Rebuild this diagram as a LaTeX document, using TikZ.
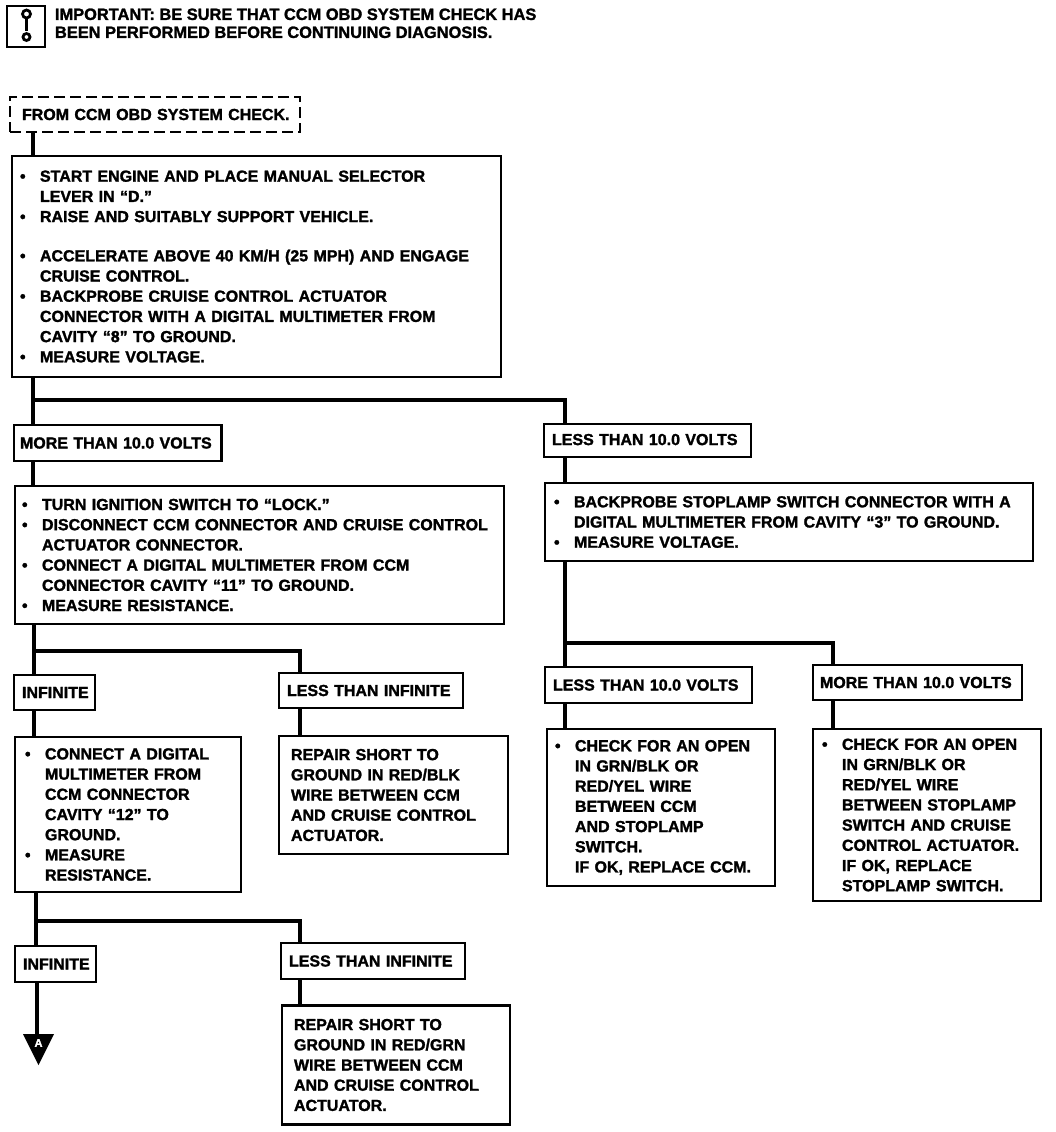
\documentclass[tikz,border=0pt]{standalone}
\usepackage{fontspec}
\setmainfont[BoldFeatures={FakeBold=1.6}]{Liberation Sans}
\newcommand{\bl}[1]{\makebox[20pt][l]{\textbullet}#1}
\newcommand{\cl}[1]{\hspace*{20pt}#1}
\tikzset{
  x=1pt,y=-1pt,
  base/.style={anchor=north west,inner ysep=0pt,outer sep=0pt,font=\fontsize{16}{20.2}\selectfont\bfseries,align=left},
  box/.style={base,draw=black,line width=2.8pt},
  dashbox/.style={box,dash pattern=on 11pt off 5pt},
  tag/.style={base,inner sep=0pt},
  wire/.style={draw=black,line width=3.2pt},
}
\begin{document}
\begin{tikzpicture}
\useasboundingbox (0,0) rectangle (1056,1132);
% header
\node[box,minimum width=38pt,minimum height=41pt,inner sep=0pt] (icon) at (7,6) {};
\draw[line width=2.8pt] (26.5,14) circle (4pt) (26.5,18) -- (26.5,31) (26.5,37) circle (3.5pt);
\node[tag,font=\fontsize{16.4}{18}\selectfont\bfseries] (imp) at (55,8.5) {IMPORTANT: BE SURE THAT CCM OBD SYSTEM CHECK HAS\\BEEN PERFORMED BEFORE CONTINUING DIAGNOSIS.};
% dashed start
\node[dashbox,minimum height=35pt,text width=270pt,inner xsep=10pt] (from) at (10,97) {\hspace*{2pt}\mbox{FROM CCM OBD SYSTEM CHECK.}};
% box 1
\node[box,minimum height=221pt,text width=473pt,inner xsep=8pt] (b1) at (12,156) {%
\bl{START ENGINE AND PLACE MANUAL SELECTOR}\\
\cl{LEVER IN “D.”}\\
\bl{RAISE AND SUITABLY SUPPORT VEHICLE.}\\[19pt]
\bl{ACCELERATE ABOVE 40 KM/H (25 MPH) AND ENGAGE}\\
\cl{CRUISE CONTROL.}\\
\bl{BACKPROBE CRUISE CONTROL ACTUATOR}\\
\cl{CONNECTOR WITH A DIGITAL MULTIMETER FROM}\\
\cl{CAVITY “8” TO GROUND.}\\
\bl{MEASURE VOLTAGE.}};
% level 2
\node[box,minimum height=36pt,text width=195.5pt,inner xsep=6pt] (more1) at (14,425) {MORE THAN 10.0 VOLTS};
\node[box,minimum height=33pt,text width=191pt,inner xsep=8pt] (less1) at (544,424) {\raisebox{2pt}{LESS THAN 10.0 VOLTS}};
% box 2
\node[box,minimum height=138pt,text width=475pt,inner xsep=7pt] (b2) at (15,486) {%
\bl{TURN IGNITION SWITCH TO “LOCK.”}\\
\bl{DISCONNECT CCM CONNECTOR AND CRUISE CONTROL}\\
\cl{ACTUATOR CONNECTOR.}\\
\bl{CONNECT A DIGITAL MULTIMETER FROM CCM}\\
\cl{CONNECTOR CAVITY “11” TO GROUND.}\\
\bl{MEASURE RESISTANCE.}};
% box R
\node[box,minimum height=78pt,text width=470pt,inner xsep=9pt] (bR) at (545,483) {%
\bl{BACKPROBE STOPLAMP SWITCH CONNECTOR WITH A}\\
\cl{DIGITAL MULTIMETER FROM CAVITY “3” TO GROUND.}\\
\bl{MEASURE VOLTAGE.}};
% level 3 left
\node[box,minimum height=35pt,text width=65pt,inner xsep=8pt] (inf1) at (14,675) {INFINITE};
\node[box,minimum height=35pt,text width=168pt,inner xsep=8pt] (lessinf1) at (279,673) {LESS THAN INFINITE};
\node[box,minimum height=155pt,text width=206pt,inner xsep=10pt] (b3) at (15,737) {%
\bl{CONNECT A DIGITAL}\\
\cl{MULTIMETER FROM}\\
\cl{CCM CONNECTOR}\\
\cl{CAVITY “12” TO}\\
\cl{GROUND.}\\
\bl{MEASURE}\\
\cl{RESISTANCE.}};
\node[box,minimum height=118pt,text width=205pt,inner xsep=12pt] (rep1) at (279,736) {%
REPAIR SHORT TO\\GROUND IN RED/BLK\\WIRE BETWEEN CCM\\AND CRUISE CONTROL\\ACTUATOR.};
% level 3 right
\node[box,minimum height=36pt,text width=191pt,inner xsep=8pt] (less2) at (545,667) {LESS THAN 10.0 VOLTS};
\node[box,minimum height=35pt,text width=195pt,inner xsep=7pt] (more2) at (813,665) {MORE THAN 10.0 VOLTS};
\node[box,minimum height=157pt,text width=212pt,inner xsep=8pt] (b4) at (547,729) {%
\bl{CHECK FOR AN OPEN}\\
\cl{IN GRN/BLK OR}\\
\cl{RED/YEL WIRE}\\
\cl{BETWEEN CCM}\\
\cl{AND STOPLAMP}\\
\cl{SWITCH.}\\
\cl{IF OK, REPLACE CCM.}};
\node[box,minimum height=172pt,text width=210pt,inner xsep=9pt] (b5) at (813,729) {%
\bl{CHECK FOR AN OPEN}\\
\cl{IN GRN/BLK OR}\\
\cl{RED/YEL WIRE}\\
\cl{BETWEEN STOPLAMP}\\
\cl{SWITCH AND CRUISE}\\
\cl{CONTROL ACTUATOR.}\\
\cl{IF OK, REPLACE}\\
\cl{STOPLAMP SWITCH.}};
% level 4
\node[box,minimum height=36pt,text width=65pt,inner xsep=8pt] (inf2) at (15,946) {INFINITE};
\node[box,minimum height=36pt,text width=168pt,inner xsep=8pt] (lessinf2) at (281,943) {LESS THAN INFINITE};
\node[box,minimum height=119pt,text width=204pt,inner xsep=12pt] (rep2) at (282,1005.5) {%
REPAIR SHORT TO\\GROUND IN RED/GRN\\WIRE BETWEEN CCM\\AND CRUISE CONTROL\\ACTUATOR.};
% off-page marker
\coordinate (tri) at (38,1034);
\fill (23,1034) -- (54,1034) -- (38.5,1065) -- cycle;
\node[tag,anchor=center,text=white,font=\fontsize{11}{11}\selectfont\bfseries] (markA) at (38.5,1043) {A};
% connectors
\path[wire] (from.south -| 33,0) -- (b1.north -| 33,0);
\path[wire] (b1.south -| 33,0) -- (more1.north -| 33,0);
\coordinate (j1) at (33,400);
\path[wire] (j1) -| (less1.north -| 565,0);
\path[wire] (more1.south -| 33,0) -- (b2.north -| 33,0);
\path[wire] (less1.south -| 565,0) -- (bR.north -| 565,0);
\path[wire] (b2.south -| 34,0) -- (inf1.north -| 34,0);
\coordinate (j2) at (34,651);
\path[wire] (j2) -| (lessinf1.north -| 300,0);
\path[wire] (inf1.south -| 34,0) -- (b3.north -| 34,0);
\path[wire] (lessinf1.south -| 300,0) -- (rep1.north -| 300,0);
\path[wire] (bR.south -| 565,0) -- (less2.north -| 565,0);
\coordinate (j3) at (565,643);
\path[wire] (j3) -| (more2.north -| 833,0);
\path[wire] (less2.south -| 565,0) -- (b4.north -| 565,0);
\path[wire] (more2.south -| 833,0) -- (b5.north -| 833,0);
\path[wire] (b3.south -| 36,0) -- (inf2.north -| 36,0);
\coordinate (j4) at (36,921);
\path[wire] (j4) -| (lessinf2.north -| 300,0);
\path[wire] (lessinf2.south -| 300,0) -- (rep2.north -| 300,0);
\path[wire] (inf2.south -| 37,0) -- (tri -| 37,0);
\end{tikzpicture}
\end{document}
